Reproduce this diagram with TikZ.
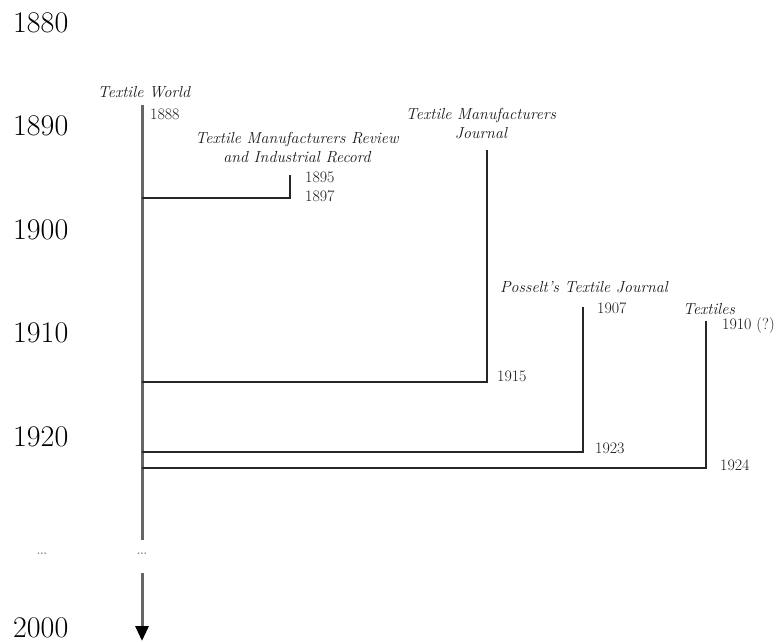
\documentclass[tikz,border=0pt]{standalone}
\usepackage{tikz}
\usetikzlibrary{arrows.meta, positioning, calc}

\tikzset{
  year/.style={font=\fontsize{30}{34}\selectfont, anchor=west, inner sep=0pt, text=black},
  title/.style={font=\fontsize{16}{19}\selectfont\itshape, align=center, inner sep=0pt, text=black!90},
  date/.style={font=\fontsize{16}{19}\selectfont, anchor=west, inner sep=0pt, text=black!90},
  gap/.style={font=\fontsize{20}{22}\selectfont, inner sep=0pt, text=gray},
  trunk/.style={draw=gray!80!black, line width=3pt},
  branch/.style={draw=black!85, line width=2.2pt},
}

\begin{document}
\begin{tikzpicture}[x=1pt, y=-1pt]
\useasboundingbox (0,0) rectangle (779,642);

% years
\node[year] (y1880) at (13,23) {1880};
\node[year] (y1890) at (13,126) {1890};
\node[year] (y1900) at (13,230) {1900};
\node[year] (y1910) at (13,333) {1910};
\node[year] (y1920) at (13,437) {1920};
\node[gap] (ydots) at (42,554) {\dots};
\node[year] (y2000) at (13,628) {2000};

% Textile World
\node[title] (tw) at (144,92) {Textile World};
\node[date] (tw-date) at (150,114) {1888};
\coordinate (tw-top) at (142,105);
\coordinate (tw-cut) at (142,540);
\coordinate (tw-go) at (142,573);
\coordinate (tw-end) at (142,641);
\node[gap] (tw-dots) at (142,554) {\dots};
\draw[trunk] (tw-top) -- (tw-cut);
\draw[trunk, -{Triangle[width=13pt, length=15pt, color=black]}] (tw-go) -- (tw-end);

% Textile Manufacturers Review
\node[title] (tmr) at (297,148) {Textile Manufacturers Review\\and Industrial Record};
\node[date] (tmr-from) at (305,177) {1895};
\node[date] (tmr-to) at (305,196) {1897};
\coordinate (tmr-top) at (290,175);
\coordinate (tmr-bot) at (290,198);
\coordinate (tmr-join) at (142,198);
\draw[branch] (tmr-top) -- (tmr-bot) -- (tmr-join);

% Textile Manufacturers Journal
\node[title] (tmj) at (481,124) {Textile Manufacturers\\Journal};
\node[date] (tmj-to) at (497,376) {1915};
\coordinate (tmj-top) at (487,150);
\coordinate (tmj-bot) at (487,382);
\coordinate (tmj-join) at (142,382);
\draw[branch] (tmj-top) -- (tmj-bot) -- (tmj-join);

% Posselt's Textile Journal
\node[title] (ptj) at (584,287) {Posselt's Textile Journal};
\node[date] (ptj-from) at (597,308) {1907};
\node[date] (ptj-to) at (595,448) {1923};
\coordinate (ptj-top) at (583,307);
\coordinate (ptj-bot) at (583,452);
\coordinate (ptj-join) at (142,452);
\draw[branch] (ptj-top) -- (ptj-bot) -- (ptj-join);

% Textiles
\node[title] (tx) at (709,309) {Textiles};
\node[date] (tx-from) at (722,326) {1910 (?)};
\node[date] (tx-to) at (720,465) {1924};
\coordinate (tx-top) at (706,321);
\coordinate (tx-bot) at (706,468);
\coordinate (tx-join) at (142,468);
\draw[branch] (tx-top) -- (tx-bot) -- (tx-join);
\end{tikzpicture}
\end{document}
